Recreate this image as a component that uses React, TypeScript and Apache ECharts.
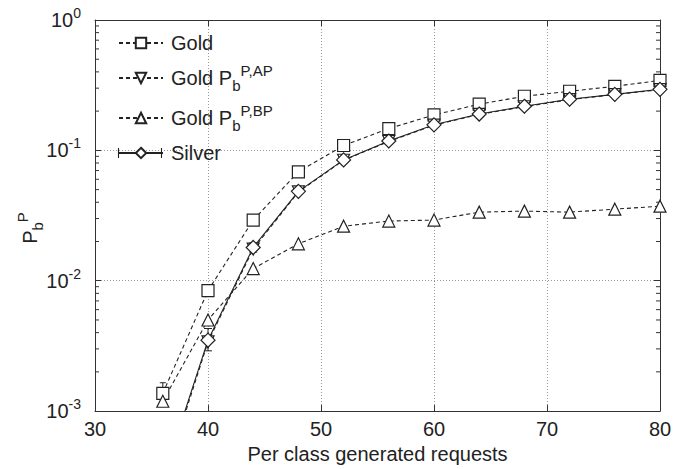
import React, { useEffect, useRef } from "react";
import * as echarts from "echarts";

const requests = [36, 40, 44, 48, 52, 56, 60, 64, 68, 72, 76, 80];
const gold = [0.00137, 0.0084, 0.0292, 0.0685, 0.109, 0.147, 0.187, 0.226, 0.26, 0.284, 0.31, 0.344];
const goldAP = [0.00028, 0.0034, 0.0175, 0.048, 0.084, 0.117, 0.156, 0.189, 0.216, 0.245, 0.268, 0.292];
const goldBP = [0.00119, 0.005, 0.0124, 0.0192, 0.0262, 0.0287, 0.0292, 0.0336, 0.0342, 0.0336, 0.0354, 0.0373];
const silver = [0.0003, 0.0035, 0.018, 0.0485, 0.0845, 0.118, 0.157, 0.19, 0.218, 0.247, 0.269, 0.294];
const silverLow = [0.00026, 0.0029, 0.0166, 0.046, 0.081, 0.114, 0.152, 0.185, 0.212, 0.241, 0.263, 0.288];
const silverHigh = [0.00034, 0.0043, 0.0195, 0.051, 0.088, 0.122, 0.162, 0.195, 0.224, 0.253, 0.275, 0.3];
const goldLow = [0.00115, 0.0079, 0.0278, 0.066, 0.106, 0.143, 0.183, 0.221, 0.255, 0.279, 0.305, 0.338];
const goldHigh = [0.00165, 0.009, 0.0306, 0.071, 0.112, 0.151, 0.191, 0.231, 0.265, 0.289, 0.315, 0.35];
const xTicks = [30, 40, 50, 60, 70, 80];
const yDecades = [-3, -2, -1, 0];

const FONT = "Liberation Sans, Arial, sans-serif";
const INK = "#222";

const legendNames: Record<string, string> = {
  Gold: "{t|Gold}",
  "Gold AP": "{t|Gold P}{sub|b}{sup|P,AP}",
  "Gold BP": "{t|Gold P}{sub|b}{sup|P,BP}",
  Silver: "{t|Silver}",
};

export default function App() {
  const ref = useRef<HTMLDivElement>(null);
  useEffect(() => {
    const chart = echarts.init(ref.current!, null, { renderer: "svg" });
    const minorVals: number[][] = [];
    for (let d = yDecades[0]; d < yDecades[yDecades.length - 1]; d++) {
      for (let m = 2; m <= 9; m++) minorVals.push([xTicks[0], m * Math.pow(10, d)]);
    }
    const pair = (ys: number[]) => requests.map((x, i) => [x, ys[i]]);
    const errData = (lo: number[], hi: number[]) => requests.map((x, i) => [x, lo[i], hi[i]]);
    const errSeries = (name: string, lo: number[], hi: number[], cap: number) => ({
      type: "custom",
      name: name + "-err",
      xAxisIndex: 0,
      yAxisIndex: 0,
      clip: true,
      silent: true,
      z: 3,
      data: errData(lo, hi),
      encode: { x: 0, y: [1, 2] },
      renderItem: (params: any, api: any) => {
        const x = api.value(0);
        const a = api.coord([x, api.value(1)]);
        const b = api.coord([x, api.value(2)]);
        const st = { stroke: INK, lineWidth: 1 };
        return {
          type: "group",
          children: [
            { type: "line", shape: { x1: a[0], y1: a[1], x2: b[0], y2: b[1] }, style: st },
            { type: "line", shape: { x1: a[0] - cap, y1: a[1], x2: a[0] + cap, y2: a[1] }, style: st },
            { type: "line", shape: { x1: b[0] - cap, y1: b[1], x2: b[0] + cap, y2: b[1] }, style: st },
          ],
        };
      },
    });
    const lineSeries = (name: string, ys: number[], symbol: string, size: number, dashed: boolean, rotate = 0) => ({
      type: "line",
      name,
      data: pair(ys),
      symbol,
      symbolSize: size,
      symbolRotate: rotate,
      showAllSymbol: true,
      clip: true,
      z: 4,
      itemStyle: { color: "#fff", borderColor: INK, borderWidth: 1.2 },
      lineStyle: { color: INK, width: 1.1, type: dashed ? [4, 3] : "solid" },
    });
    const axisCommon = {
      axisLine: { show: true, lineStyle: { color: "#333", width: 1 } },
      axisTick: { show: true, inside: true, length: 6, lineStyle: { color: "#333" } },
    };
    const option: any = {
      animation: false,
      backgroundColor: "#fff",
      textStyle: { fontFamily: FONT },
      grid: { left: 95, right: 27, top: 20, bottom: 54, containLabel: false },
      graphic: [
        {
          type: "text",
          x: 30,
          y: 228,
          rotation: Math.PI / 2,
          style: {
            text: "{P|P}{sub|b}{sup|P}",
            align: "center",
            verticalAlign: "middle",
            rich: {
              P: { fontSize: 20, fontFamily: FONT, fill: INK, lineHeight: 30 },
              sub: { fontSize: 15, fontFamily: FONT, fill: INK, verticalAlign: "bottom", lineHeight: 15 },
              sup: { fontSize: 15, fontFamily: FONT, fill: INK, verticalAlign: "top", lineHeight: 15 },
            },
          },
        },
        { type: "line", shape: { x1: 118.5, y1: 148, x2: 118.5, y2: 158 }, style: { stroke: INK, lineWidth: 1.1 }, z: 100 },
        { type: "line", shape: { x1: 161.5, y1: 148, x2: 161.5, y2: 158 }, style: { stroke: INK, lineWidth: 1.1 }, z: 100 },
      ],
      legend: {
        orient: "vertical",
        left: 113,
        top: 28,
        itemWidth: 44,
        itemHeight: 13,
        itemGap: 10,
        data: ["Gold", "Gold AP", "Gold BP", "Silver"],
        formatter: (n: string) => legendNames[n] || n,
        textStyle: {
          color: INK,
          padding: [0, 0, 0, 3],
          rich: {
            t: { fontSize: 20, fontFamily: FONT, color: INK, lineHeight: 30 },
            sub: { fontSize: 15, fontFamily: FONT, color: INK, verticalAlign: "bottom", lineHeight: 15 },
            sup: { fontSize: 15, fontFamily: FONT, color: INK, verticalAlign: "top", lineHeight: 15 },
          },
        },
      },
      xAxis: [
        {
          type: "value",
          min: xTicks[0],
          max: xTicks[xTicks.length - 1],
          interval: 10,
          ...axisCommon,
          name: "Per class generated requests",
          nameLocation: "middle",
          nameGap: 30,
          nameTextStyle: { fontSize: 20, color: INK, fontFamily: FONT },
          axisLabel: { fontSize: 20, color: INK, margin: 8, fontFamily: FONT },
          splitLine: { show: true, lineStyle: { color: "#999", type: [1, 2], width: 1 } },
        },
        {
          type: "value",
          position: "top",
          min: xTicks[0],
          max: xTicks[xTicks.length - 1],
          interval: 10,
          ...axisCommon,
          axisLabel: { show: false },
          splitLine: { show: false },
        },
      ],
      yAxis: [
        {
          type: "log",
          logBase: 10,
          min: Math.pow(10, yDecades[0]),
          max: Math.pow(10, yDecades[yDecades.length - 1]),
          ...axisCommon,
          axisLabel: {
            margin: 14,
            formatter: (v: number) => `{b|10}{s|${Math.round(Math.log10(v))}}`,
            rich: {
              b: { fontSize: 20, fontFamily: FONT, color: INK, lineHeight: 28 },
              s: { fontSize: 14, fontFamily: FONT, color: INK, verticalAlign: "top", lineHeight: 14 },
            },
          },
          splitLine: { show: true, lineStyle: { color: "#999", type: [1, 2], width: 1 } },
        },
        {
          type: "log",
          logBase: 10,
          position: "right",
          min: Math.pow(10, yDecades[0]),
          max: Math.pow(10, yDecades[yDecades.length - 1]),
          ...axisCommon,
          axisLabel: { show: false },
          splitLine: { show: false },
        },
      ],
      series: [
        {
          type: "custom",
          name: "minor",
          silent: true,
          data: minorVals,
          encode: { x: 0, y: 1 },
          z: 2,
          renderItem: (params: any, api: any) => {
            const v = api.value(1);
            const l = api.coord([xTicks[0], v]);
            const r = api.coord([xTicks[xTicks.length - 1], v]);
            const st = { stroke: "#333", lineWidth: 1 };
            return {
              type: "group",
              children: [
                { type: "line", shape: { x1: l[0], y1: l[1], x2: l[0] + 4, y2: l[1] }, style: st },
                { type: "line", shape: { x1: r[0] - 4, y1: r[1], x2: r[0], y2: r[1] }, style: st },
              ],
            };
          },
        },
        errSeries("Gold", goldLow, goldHigh, 3),
        errSeries("Silver", silverLow, silverHigh, 4),
        lineSeries("Gold", gold, "rect", 12, true),
        lineSeries("Gold AP", goldAP, "triangle", 12, true, 180),
        lineSeries("Gold BP", goldBP, "triangle", 12, true),
        lineSeries("Silver", silver, "diamond", 14, false),
      ],
    };
    chart.setOption(option);
    return () => chart.dispose();
  }, []);
  return <div ref={ref} style={{ position: "fixed", left: 0, top: 0, width: 687, height: 469, background: "#fff" }} />;
}
